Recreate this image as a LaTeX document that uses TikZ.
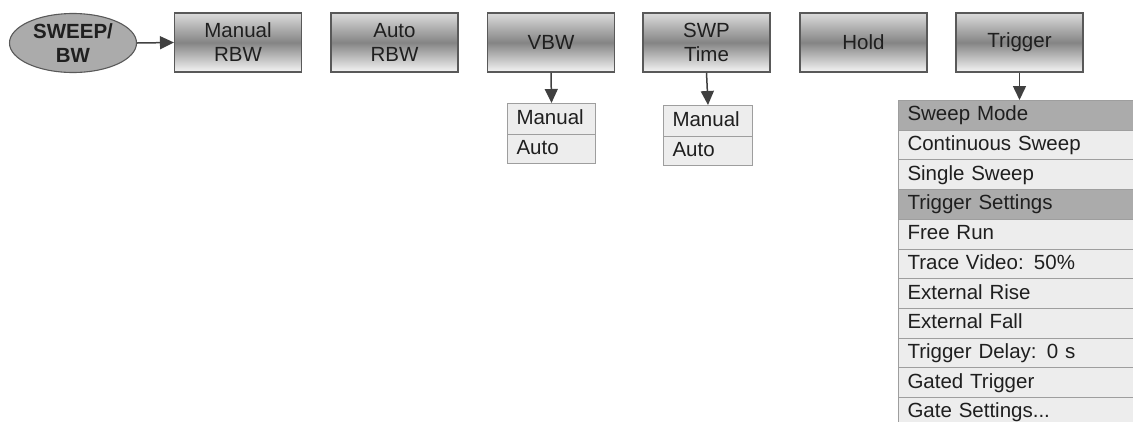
\documentclass[tikz,border=0pt]{standalone}
\usepackage{fontspec}
\setmainfont{Liberation Sans}
\usetikzlibrary{shapes.geometric,arrows.meta}
\newcommand{\fsz}{\fontsize{20.5}{24}\selectfont}
\tikzset{
  menubox/.style={rectangle, draw=black!65, line width=1.1pt,
    minimum width=127pt, minimum height=59pt, inner sep=0pt,
    top color=black!14, bottom color=black!4, middle color=black!48,
    align=center, font=\fsz, text=black!88},
  keyoval/.style={ellipse, draw=black!65, line width=1.1pt, fill=black!33,
    minimum width=127pt, minimum height=59pt, inner sep=0pt,
    align=center, font=\fsz\bfseries, text=black!88},
  listrow/.style={rectangle, draw=black!38, line width=1pt, fill=black!7,
    anchor=north west, inner xsep=9pt, inner ysep=0pt,
    minimum height=#1, text height=15pt, text depth=4pt,
    align=left, font=\fsz, text=black!88},
  listrow/.default=29.7pt,
  headrow/.style={listrow, fill=black!33},
  arr/.style={draw=black!75, line width=1.5pt,
    -{Triangle[length=14pt,width=13pt]}}
}
\begin{document}
\begin{tikzpicture}[x=1pt,y=-1pt]
\useasboundingbox (0,0) rectangle (1133,421);
% top row
\node[keyoval] (key) at (73,43) {SWEEP/\\BW};
\node[menubox] (mrbw) at (238,42.5) {Manual\\RBW};
\node[menubox] (arbw) at (394.5,42.5) {Auto\\RBW};
\node[menubox] (vbw) at (551,42.5) {VBW};
\node[menubox] (swp) at (706.5,42.5) {SWP\\Time};
\node[menubox] (hold) at (863.5,42.5) {Hold};
\node[menubox] (trig) at (1019.5,42.5) {Trigger};
\draw[arr] (key.east) -- (mrbw.west);
% VBW submenu
\node[listrow=30.5pt, text width=70pt] (vbwa) at (507,103) {Manual};
\node[listrow=29.5pt, text width=70pt] (vbwb) at (507,133.5) {Auto};
\draw[arr] (vbw.south) -- (vbwa.north);
% SWP submenu
\node[listrow=30.5pt, text width=71pt] (swpa) at (663,105) {Manual};
\node[listrow=29.5pt, text width=71pt] (swpb) at (663,135.5) {Auto};
\draw[arr] (swp.south) -- (swpa.north);
% Trigger list
\node[headrow, text width=230pt] (t0) at (898,100) {Sweep Mode};
\node[listrow, text width=230pt] (t1) at (898,129.7) {Continuous Sweep};
\node[listrow, text width=230pt] (t2) at (898,159.4) {Single Sweep};
\node[headrow, text width=230pt] (t3) at (898,189.1) {Trigger Settings};
\node[listrow, text width=230pt] (t4) at (898,218.8) {Free Run};
\node[listrow, text width=230pt] (t5) at (898,248.5) {Trace Video: 50\%};
\node[listrow, text width=230pt] (t6) at (898,278.2) {External Rise};
\node[listrow, text width=230pt] (t7) at (898,307.9) {External Fall};
\node[listrow, text width=230pt] (t8) at (898,337.6) {Trigger Delay: 0 s};
\node[listrow, text width=230pt] (t9) at (898,367.3) {Gated Trigger};
\node[listrow, text width=230pt] (t10) at (898,397) {Gate Settings...};
\draw[arr] (trig.south) -- (t0.north -| trig.south);
\end{tikzpicture}
\end{document}
